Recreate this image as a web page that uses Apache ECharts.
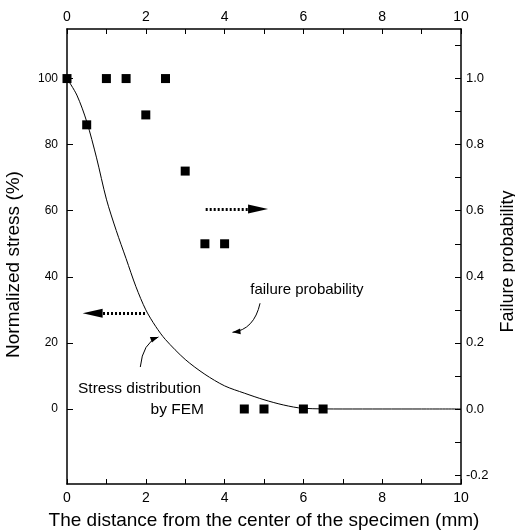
<!DOCTYPE html>
<html>
<head>
<meta charset="utf-8">
<script src="https://cdn.jsdelivr.net/npm/echarts@6/dist/echarts.min.js"></script>
<style>
html, body { margin: 0; padding: 0; background: #fff; }
#chart { width: 515px; height: 530px; }
</style>
</head>
<body>
<div id="chart"></div>
<script>
// stress distribution by FEM (left axis, %)
var femX = [0, 0.25, 0.5, 0.75, 1, 1.25, 1.5, 1.75, 2, 2.25, 2.5, 3, 3.5, 4, 4.5, 5, 5.5, 6, 7, 8, 9, 10];
var femStress = [100, 95, 87, 76, 63.5, 54, 45.5, 37, 30, 25, 21, 15, 10.5, 7, 4.8, 2.8, 1.2, 0.2, 0, 0, 0, 0];
// failure probability (right axis)
var failX = [0, 0.5, 1, 1.5, 2, 2.5, 3, 3.5, 4, 4.5, 5, 6, 6.5];
var failProb = [1.0, 0.86, 1.0, 1.0, 0.89, 1.0, 0.72, 0.5, 0.5, 0, 0, 0, 0];
// ticks
var xLabels = [0, 2, 4, 6, 8, 10];
var leftLabels = [0, 20, 40, 60, 80, 100];
var rightLabels = [-0.2, 0, 0.2, 0.4, 0.6, 0.8, 1.0];
var rightTicks = [-0.2, -0.1, 0, 0.1, 0.2, 0.3, 0.4, 0.5, 0.6, 0.7, 0.8, 0.9, 1.0, 1.1];

var font = "'Liberation Sans', Arial, sans-serif";
var chart = echarts.init(document.getElementById("chart"));

function xAxisCfg(pos) {
  return {
    type: "value",
    position: pos,
    min: 0,
    max: 10,
    interval: 2,
    axisLine: { show: true, onZero: false, lineStyle: { color: "#000", width: 1.5 } },
    axisTick: { show: true, inside: true, length: 5, lineStyle: { color: "#000" } },
    minorTick: { show: true, splitNumber: 2, length: 5, lineStyle: { color: "#000" } },
    splitLine: { show: false },
    axisLabel: { color: "#000", fontSize: 14, fontFamily: font, margin: 7, customValues: xLabels },
  };
}

var bottomX = xAxisCfg("bottom");
bottomX.name = "The distance from the center of the specimen (mm)";
bottomX.nameLocation = "middle";
bottomX.nameGap = 27;
bottomX.nameTextStyle = { color: "#000", fontSize: 19, fontFamily: font };
var topX = xAxisCfg("top");
topX.axisLabel.margin = 5;

var option = {
  animation: false,
  backgroundColor: "#fff",
  grid: { left: 67, right: 54, top: 29, bottom: 46, outerBoundsMode: "none", containLabel: false },
  xAxis: [bottomX, topX],
  yAxis: [
    {
      type: "value",
      position: "left",
      min: -22.7,
      max: 115,
      name: "Normalized stress (%)",
      nameLocation: "middle",
      nameGap: 44,
      nameTextStyle: { color: "#000", fontSize: 19, fontFamily: font, padding: [0, 16, 0, 0] },
      axisLine: { show: true, onZero: false, lineStyle: { color: "#000", width: 1.5 } },
      axisTick: { show: true, inside: true, length: 6, customValues: leftLabels, lineStyle: { color: "#000" } },
      axisLabel: { color: "#000", fontSize: 12, fontFamily: font, margin: 9, customValues: leftLabels },
      splitLine: { show: false },
    },
    {
      type: "value",
      position: "right",
      min: -0.227,
      max: 1.15,
      name: "Failure probability",
      nameLocation: "middle",
      nameGap: 37,
      nameRotate: 90,
      nameTextStyle: { color: "#000", fontSize: 18, fontFamily: font, padding: [0, 10, 0, 0] },
      axisLine: { show: true, onZero: false, lineStyle: { color: "#000", width: 1.5 } },
      axisTick: { show: true, inside: true, length: 6, customValues: rightTicks, lineStyle: { color: "#000" } },
      axisLabel: {
        color: "#000", fontSize: 13, fontFamily: font, margin: 5, customValues: rightLabels,
        formatter: function (v) { return v.toFixed(1); },
      },
      splitLine: { show: false },
    },
  ],
  series: [
    {
      name: "Stress distribution by FEM",
      type: "line",
      xAxisIndex: 0,
      yAxisIndex: 0,
      smooth: 0.3,
      showSymbol: false,
      lineStyle: { color: "#000", width: 1 },
      itemStyle: { color: "#000" },
      data: femX.map(function (x, i) { return [x, femStress[i]]; }),
      markLine: {
        silent: true,
        symbol: ["none", "triangle"],
        symbolSize: [9, 20],
        label: { show: false },
        itemStyle: { color: "#000" },
        lineStyle: { color: "#000", type: [2, 2], width: 3 },
        data: [
          [{ coord: [3.52, 60.5] }, { coord: [4.85, 60.5] }],
          [{ coord: [1.98, 29] }, { coord: [0.65, 29] }],
        ],
      },
    },
    {
      name: "Failure probability",
      type: "scatter",
      xAxisIndex: 0,
      yAxisIndex: 1,
      symbol: "rect",
      symbolSize: 9,
      itemStyle: { color: "#000", opacity: 1 },
      data: failX.map(function (x, i) { return [x, failProb[i]]; }),
    },
  ],
};
chart.setOption(option);

// annotations placed through the axes' own scale
function px(x, y) { return chart.convertToPixel({ xAxisIndex: 0, yAxisIndex: 0 }, [x, y]); }
function callout(p0, c, p1) {
  var ang = Math.atan2(p1[1] - c[1], p1[0] - c[0]);
  var L = 8, W = 3;
  var b = [p1[0] - L * Math.cos(ang), p1[1] - L * Math.sin(ang)];
  return [
    { type: "bezierCurve", shape: { x1: p0[0], y1: p0[1], x2: p1[0], y2: p1[1], cpx1: c[0], cpy1: c[1] },
      style: { stroke: "#000", lineWidth: 1, fill: null } },
    { type: "polygon", shape: { points: [p1,
        [b[0] + W * Math.sin(ang), b[1] - W * Math.cos(ang)],
        [b[0] - W * Math.sin(ang), b[1] + W * Math.cos(ang)]] },
      style: { fill: "#000" } },
  ];
}
var t1 = px(4.65, 36), t2 = px(0.28, 6.1), t3 = px(2.12, -0.3);
var a1 = callout(px(4.9, 32), px(4.75, 24), px(4.2, 23.2));
var a2 = callout(px(1.86, 12.7), px(1.92, 20), px(2.32, 21.8));
chart.setOption({
  graphic: [
    { type: "text", x: t1[0], y: t1[1], style: { text: "failure probability", font: "15px " + font, fill: "#000", textVerticalAlign: "middle" } },
    { type: "text", x: t2[0], y: t2[1], style: { text: "Stress distribution", font: "15.5px " + font, fill: "#000", textVerticalAlign: "middle" } },
    { type: "text", x: t3[0], y: t3[1], style: { text: "by FEM", font: "15.5px " + font, fill: "#000", textVerticalAlign: "middle" } },
  ].concat(a1, a2),
});
</script>
</body>
</html>
